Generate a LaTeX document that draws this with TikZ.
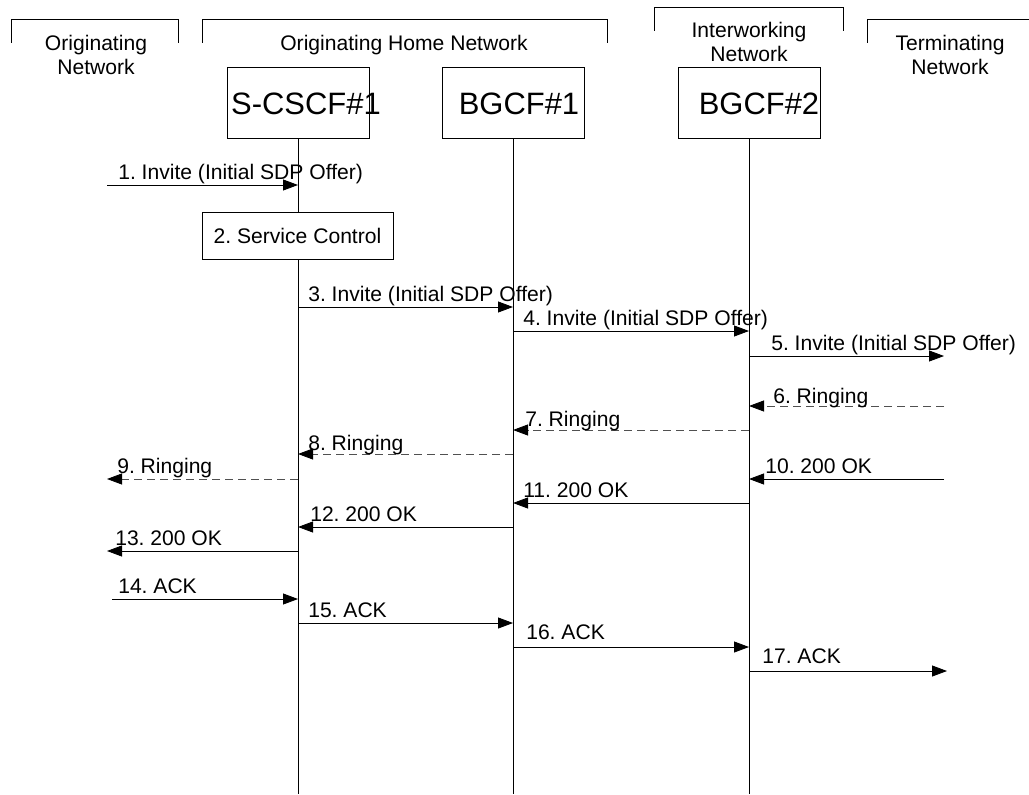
\documentclass[tikz,border=0pt]{standalone}
\usepackage{fontspec}
\setmainfont{Liberation Sans}
\usetikzlibrary{arrows.meta}
\definecolor{dashgray}{HTML}{505050}
\frenchspacing

\begin{document}
\begin{tikzpicture}[x=0.025cm, y=-0.025cm,
        netbox/.style={draw, line width=0.6pt, fill=white, inner sep=0pt,
                       minimum width=3.55cm, minimum height=1.775cm},
        boxtxt/.style={anchor=base, inner sep=0pt, font=\fontsize{22}{26}\selectfont},
        svcbox/.style={draw, line width=0.6pt, fill=white, inner sep=0pt,
                       minimum width=4.775cm, minimum height=1.175cm, font=\fontsize{15}{18}\selectfont},
        hdr/.style={align=center, inner sep=0pt, font=\fontsize{15}{16.7}\selectfont},
        lbl/.style={anchor=base west, inner sep=0pt, font=\fontsize{15}{18}\selectfont},
        bracket/.style={draw, line width=0.6pt},
        life/.style={draw, line width=0.6pt},
        msg/.style={-{Triangle[length=0.375cm, width=0.275cm, color=black]}, draw, line width=0.6pt},
        reply/.style={msg, draw=dashgray, dash pattern=on 0.2cm off 0.125cm}
      ]
        \useasboundingbox (0,0) rectangle (1029,794);

        % network headers
        \draw[bracket] (11,43) |- (178,19) -- (178,43);
        \draw[bracket] (202,43) |- (607,19) -- (607,43);
        \draw[bracket] (654,31) |- (843,7) -- (843,31);
        \draw[bracket] (867,43) |- (1040,19);

        \node[hdr] (orignet) at (96,55) {Originating\\Network};
        \node[hdr, anchor=base] (homenet) at (404,51) {Originating Home Network};
        \node[hdr] (iwnet) at (749,42) {Interworking\\Network};
        \node[hdr] (termnet) at (950,55) {Terminating\\Network};

        % entities and lifelines
        \node[netbox] (scscf) at (298,102.5) {};
        \node[netbox] (bgcf1) at (513,102.5) {};
        \node[netbox] (bgcf2) at (749,102.5) {};
        \node[boxtxt] (scscftxt) at (306,115) {S-CSCF\#1};
        \node[boxtxt] (bgcf1txt) at (519,115) {BGCF\#1};
        \node[boxtxt] (bgcf2txt) at (759,115) {BGCF\#2};

        \draw[life] (scscf) -- (scscf |- 0,794);
        \draw[life] (bgcf1) -- (bgcf1 |- 0,794);
        \draw[life] (bgcf2) -- (bgcf2 |- 0,794);

        \coordinate (origedge) at (107,0);
        \coordinate (termedge) at (944,0);

        % 1-2
        \draw[msg] (origedge |- 0,185) -- (scscf |- 0,185);
        \node[lbl] (l1) at (118,179) {1. Invite (Initial SDP Offer)};
        \node[svcbox] (svc) at (297.5,235.5) {2. Service Control};

        % 3-5 invite
        \draw[msg] (scscf |- 0,307) -- (bgcf1 |- 0,307);
        \node[lbl] (l3) at (308,301) {3. Invite (Initial SDP Offer)};
        \draw[msg] (bgcf1 |- 0,331) -- (bgcf2 |- 0,331);
        \node[lbl] (l4) at (523,325) {4. Invite (Initial SDP Offer)};
        \draw[msg] (bgcf2 |- 0,356) -- (termedge |- 0,356);
        \node[lbl] (l5) at (771,350) {5. Invite (Initial SDP Offer)};

        % 6-9 ringing
        \draw[reply] (termedge |- 0,406) -- (bgcf2 |- 0,406);
        \node[lbl] (l6) at (773,403) {6. Ringing};
        \draw[reply] (bgcf2 |- 0,430) -- (bgcf1 |- 0,430);
        \node[lbl] (l7) at (525,426) {7. Ringing};
        \draw[reply] (bgcf1 |- 0,454) -- (scscf |- 0,454);
        \node[lbl] (l8) at (308,450) {8. Ringing};
        \draw[reply] (scscf |- 0,479) -- (origedge |- 0,479);
        \node[lbl] (l9) at (117,473) {9. Ringing};

        % 10-13 200 OK
        \draw[msg] (termedge |- 0,479) -- (bgcf2 |- 0,479);
        \node[lbl] (l10) at (765,473) {10. 200 OK};
        \draw[msg] (bgcf2 |- 0,503) -- (bgcf1 |- 0,503);
        \node[lbl] (l11) at (523,497) {11. 200 OK};
        \draw[msg] (bgcf1 |- 0,527) -- (scscf |- 0,527);
        \node[lbl] (l12) at (310,521) {12. 200 OK};
        \draw[msg] (scscf |- 0,551) -- (origedge |- 0,551);
        \node[lbl] (l13) at (115,545) {13. 200 OK};

        % 14-17 ACK
        \draw[msg] ([xshift=0.125cm]origedge |- 0,599) -- (scscf |- 0,599);
        \node[lbl] (l14) at (118,593) {14. ACK};
        \draw[msg] (scscf |- 0,623) -- (bgcf1 |- 0,623);
        \node[lbl] (l15) at (308,617) {15. ACK};
        \draw[msg] (bgcf1 |- 0,647) -- (bgcf2 |- 0,647);
        \node[lbl] (l16) at (526,639) {16. ACK};
        \draw[msg] (bgcf2 |- 0,671) -- ([xshift=0.075cm]termedge |- 0,671);
        \node[lbl] (l17) at (762,663) {17. ACK};
      \end{tikzpicture}
\end{document}
